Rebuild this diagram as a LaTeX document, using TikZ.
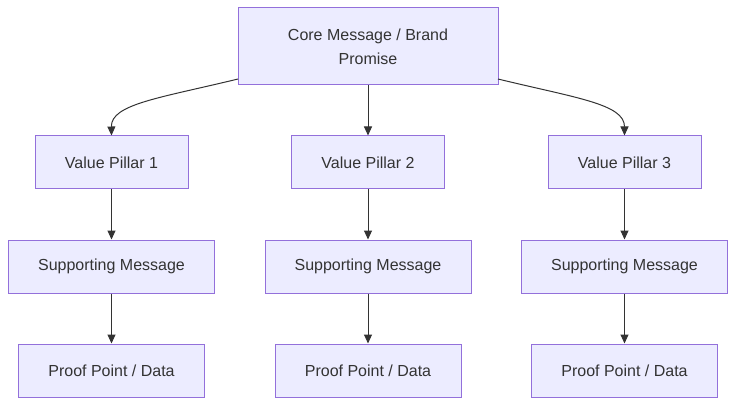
\documentclass[tikz,border=0pt]{standalone}
\usepackage{fontspec}
\setmainfont{Liberation Sans}
\usetikzlibrary{arrows.meta}
\definecolor{boxfill}{HTML}{ECECFF}
\definecolor{boxline}{HTML}{9370DB}
\definecolor{txt}{HTML}{333333}
\begin{document}
\begin{tikzpicture}[x=1pt,y=-1pt,
  box/.style={draw=boxline, fill=boxfill, line width=1pt, text=txt, align=center,
    font=\fontsize{16pt}{24pt}\selectfont, inner sep=0pt},
  conn/.style={draw=txt, line width=1pt, -{Triangle[length=9pt,width=8pt]}}]
\useasboundingbox (0,0) rectangle (736,406);
\node[box, minimum width=260pt, minimum height=77pt] (core) at (368,46.5) {Core Message / Brand\\Promise};
\foreach \i/\x in {1/111.5, 2/368, 3/624.5}{
  \node[box, minimum width=153pt, minimum height=53pt] (p\i) at (\x,162.5) {Value Pillar \i};
  \node[box, minimum width=206pt, minimum height=53pt] (s\i) at (\x,266.5) {Supporting Message};
  \node[box, minimum width=186pt, minimum height=53pt] (d\i) at (\x,370.5) {Proof Point / Data};
  \draw[conn] (p\i) -- (s\i);
  \draw[conn] (s\i) -- (d\i);
}
\coordinate (cl) at (238,79);
\coordinate (cr) at (498,79);
\draw[conn] (cl) .. controls (160,98) and (111,104) .. (p1.north);
\draw[conn] (core) -- (p2);
\draw[conn] (cr) .. controls (576,98) and (624.5,104) .. (p3.north);
\end{tikzpicture}
\end{document}
